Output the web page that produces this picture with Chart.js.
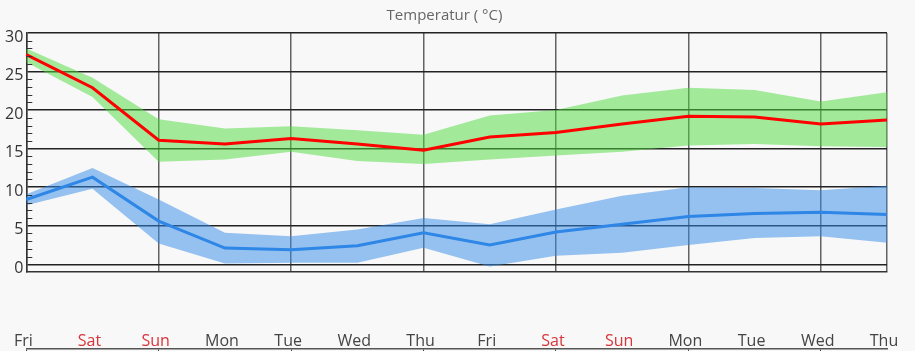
<!DOCTYPE html>
<html>
<head>
<meta charset="utf-8">
<script src="https://cdn.jsdelivr.net/npm/chart.js@4/dist/chart.umd.min.js"></script>
<style>
  html, body { margin: 0; padding: 0; background: #f8f8f8; }
  canvas { display: block; }
</style>
</head>
<body>
<canvas id="tempChart" width="915" height="351"></canvas>
<script>
// Tage (x-Achse)
const tage = ["Fri", "Sat", "Sun", "Mon", "Tue", "Wed", "Thu", "Fri", "Sat", "Sun", "Mon", "Tue", "Wed", "Thu"];
const wochenende = [false, true, true, false, false, false, false, false, true, true, false, false, false, false];

// Höchsttemperatur + Bandbreite
const maxMittel = [27.2, 22.9, 16.1, 15.6, 16.3, 15.6, 14.8, 16.5, 17.1, 18.2, 19.2, 19.1, 18.2, 18.7];
const maxOben   = [28.0, 24.2, 18.8, 17.6, 17.9, 17.4, 16.8, 19.3, 20.0, 21.9, 22.9, 22.6, 21.1, 22.3];
const maxUnten  = [26.2, 21.7, 13.3, 13.6, 14.6, 13.4, 13.0, 13.6, 14.1, 14.6, 15.4, 15.6, 15.3, 15.2];

// Tiefsttemperatur + Bandbreite
const minMittel = [8.4, 11.3, 5.6, 2.1, 1.9, 2.4, 4.1, 2.5, 4.2, 5.2, 6.2, 6.6, 6.75, 6.45];
const minOben   = [9.1, 12.5, 8.4, 4.1, 3.65, 4.5, 6.0, 5.2, 7.1, 8.9, 10.0, 9.9, 9.6, 10.2];
const minUnten  = [7.65, 9.8, 2.7, 0.1, 0.2, 0.2, 2.15, -0.3, 1.1, 1.5, 2.5, 3.4, 3.65, 2.8];

// y-Achse
const yMin = -1;
const yMax = 30;
const ySchritt = 5;

// kleine Striche an der y-Achse (jede Einheit)
const minorTicks = {
  id: "minorTicks",
  afterDraw(chart) {
    const y = chart.scales.y;
    const left = chart.chartArea.left;
    const ctx = chart.ctx;
    ctx.save();
    ctx.strokeStyle = "#333";
    ctx.lineWidth = 1;
    for (let v = 0; v < yMax; v++) {
      if (v % ySchritt === 0) continue;
      const py = Math.round(y.getPixelForValue(v)) + 0.5;
      ctx.beginPath();
      ctx.moveTo(left, py);
      ctx.lineTo(left + 6, py);
      ctx.stroke();
    }
    ctx.restore();
  }
};

const grundFarbe = "#444";

new Chart(document.getElementById("tempChart").getContext("2d"), {
  type: "line",
  data: {
    labels: tage,
    datasets: [
      { data: maxMittel, borderColor: "#ff0000", borderWidth: 3, pointRadius: 0, fill: false, tension: 0 },
      { data: minMittel, borderColor: "#2e86e6", borderWidth: 3, pointRadius: 0, fill: false, tension: 0 },
      { data: maxOben, borderWidth: 0, pointRadius: 0, fill: "+1", backgroundColor: "rgba(76,220,60,0.5)", tension: 0 },
      { data: maxUnten, borderWidth: 0, pointRadius: 0, fill: false, tension: 0 },
      { data: minOben, borderWidth: 0, pointRadius: 0, fill: "+1", backgroundColor: "rgba(50,138,234,0.5)", tension: 0 },
      { data: minUnten, borderWidth: 0, pointRadius: 0, fill: false, tension: 0 }
    ]
  },
  options: {
    responsive: false,
    animation: false,
    layout: { padding: { left: 2, right: 28, top: 0, bottom: 0 } },
    plugins: {
      legend: { display: false },
      tooltip: { enabled: false },
      title: {
        display: true,
        text: "Temperatur ( °C)",
        color: "#666",
        font: { family: "'Open Sans'", size: 15, weight: "normal" },
        padding: { top: 7, bottom: 8 }
      }
    },
    scales: {
      x: {
        offset: false,
        grid: {
          drawTicks: true,
          tickLength: 61,
          tickColor: "transparent",
          color: (c) => (c.index % 2 === 0 || c.index === tage.length - 1) ? "rgba(0,0,0,0.6)" : "transparent",
          lineWidth: 1.5
        },
        border: { color: "#333", width: 1.5 },
        ticks: {
          padding: 0,
          labelOffset: -3,
          maxRotation: 0,
          autoSkip: false,
          font: { family: "'Open Sans'", size: 16, lineHeight: 1.0 },
          color: (c) => wochenende[c.index] ? "#d9343a" : grundFarbe
        }
      },
      x2: {
        type: "category",
        labels: tage,
        position: "bottom",
        weight: 1,
        offset: false,
        grid: {
          drawOnChartArea: false,
          drawTicks: true,
          tickLength: 2,
          color: (c) => c.index % 2 === 0 ? "#444" : "transparent"
        },
        border: { color: "#555", width: 1.5 },
        ticks: { display: false }
      },
      y: {
        min: yMin,
        max: yMax,
        grid: {
          drawTicks: false,
          color: (c) => (c.tick.value % ySchritt === 0 && c.tick.value >= 0) ? "#222" : "transparent",
          lineWidth: 1.5
        },
        border: { color: "#333", width: 1.5 },
        ticks: {
          stepSize: 1,
          autoSkip: false,
          padding: 3,
          labelOffset: 4,
          font: { family: "'Open Sans'", size: 16 },
          color: "#333",
          callback: (v) => (v % ySchritt === 0 && v >= 0) ? v : ""
        }
      }
    }
  },
  plugins: [minorTicks]
});
</script>
</body>
</html>
